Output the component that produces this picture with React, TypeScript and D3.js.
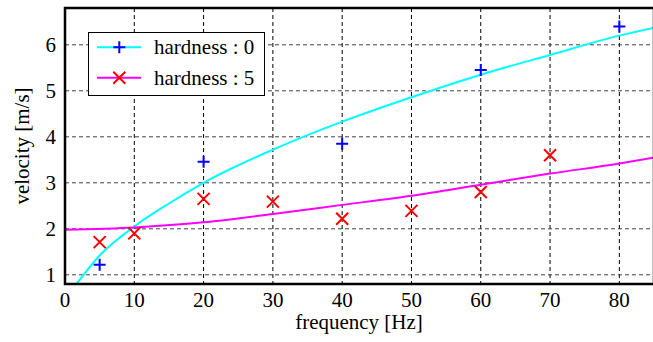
import * as d3 from "d3";

// measured points
const freqHard0 = [5, 20, 40, 60, 80];
const velHard0 = [1.22, 3.46, 3.85, 5.45, 6.4];
const freqHard5 = [5, 10, 20, 30, 40, 50, 60, 70];
const velHard5 = [1.71, 1.9, 2.65, 2.59, 2.22, 2.39, 2.8, 3.6];

// fitted curves
const fitFreq0 = [1.6, 5, 10, 15, 20, 30, 40, 50, 60, 70, 80, 85];
const fitVel0 = [0.79, 1.42, 2.05, 2.55, 3.0, 3.72, 4.33, 4.86, 5.35, 5.78, 6.2, 6.37];
const fitFreq5 = [0, 10, 20, 30, 40, 50, 60, 70, 80, 85];
const fitVel5 = [1.98, 2.03, 2.14, 2.32, 2.52, 2.72, 2.96, 3.2, 3.42, 3.55];

const xTicks = [0, 10, 20, 30, 40, 50, 60, 70, 80];
const yTicks = [1, 2, 3, 4, 5, 6];
const legendLabels = ["hardness : 0", "hardness : 5"];
const lineColors = ["#00ffff", "#ff00ff"];

const W = 653;
const H = 342;
const FONT = "Times New Roman";

const left = 65, top = 8, bottom = 284, right = 654;
const x = d3.scaleLinear().domain([0, 85]).range([left, right]);
const y = d3.scaleLinear().domain([0.8, 6.8]).range([bottom, top]);

function Plus({ cx, cy }) {
	return (
		<path
			d={`M${cx - 6},${cy}H${cx + 6}M${cx},${cy - 6}V${cy + 6}`}
			stroke="#0000ff"
			strokeWidth={2}
			fill="none"
		/>
	);
}

function Cross({ cx, cy }) {
	return (
		<path
			d={`M${cx - 6},${cy - 6}L${cx + 6},${cy + 6}M${cx - 6},${cy + 6}L${cx + 6},${cy - 6}`}
			stroke="#ff0000"
			strokeWidth={2}
			fill="none"
		/>
	);
}

function Label(props) {
	const { children, ...rest } = props;
	return (
		<text {...rest} fontFamily={FONT} fontSize={21} style={{ fontFamily: FONT, fontSize: 21 }}>
			{children}
		</text>
	);
}

function App() {
	const fit0 = d3.line<number>()
		.x((d, i) => x(fitFreq0[i]))
		.y((d) => y(d))
		.curve(d3.curveMonotoneX)(fitVel0);
	const fit5 = d3.line<number>()
		.x((d, i) => x(fitFreq5[i]))
		.y((d) => y(d))
		.curve(d3.curveMonotoneX)(fitVel5);

	const rows = [47.3, 77.8];

	return (
		<div style={{ position: "absolute", left: 0, top: 0 }}>
			<svg width={W} height={H} style={{ display: "block" }}>
				<rect width={W} height={H} fill="#fff" />
				<defs>
					<clipPath id="plot-clip">
						<rect x={left} y={top} width={right - left} height={bottom - top} />
					</clipPath>
				</defs>

				{/* grid */}
				{xTicks.filter((d) => d > 0).map((d) => (
					<line key={"vg" + d} x1={x(d)} x2={x(d)} y1={top} y2={bottom}
						stroke="#000" strokeWidth={1} strokeDasharray="4,3" />
				))}
				{yTicks.map((d) => (
					<line key={"hg" + d} x1={left} x2={right} y1={y(d)} y2={y(d)}
						stroke="#444" strokeWidth={1} strokeDasharray="4,3" />
				))}

				{/* fits */}
				<g clipPath="url(#plot-clip)">
					<path d={fit0} fill="none" stroke="#00ffff" strokeWidth={2} />
					<path d={fit5} fill="none" stroke="#ff00ff" strokeWidth={2} />
				</g>

				{/* measurements */}
				{freqHard0.map((f, i) => <Plus key={"p" + i} cx={x(f)} cy={y(velHard0[i])} />)}
				{freqHard5.map((f, i) => <Cross key={"c" + i} cx={x(f)} cy={y(velHard5[i])} />)}

				{/* frame */}
				<rect x={left} y={top} width={right - left} height={bottom - top}
					fill="none" stroke="#000" strokeWidth={2.5} />

				{/* tick labels */}
				{xTicks.map((d) => (
					<Label key={"xt" + d} x={x(d)} y={307} textAnchor="middle">{d}</Label>
				))}
				{yTicks.map((d) => (
					<Label key={"yt" + d} x={56} y={y(d) + 7} textAnchor="end">{d}</Label>
				))}

				{/* axis titles */}
				<Label x={359} y={329} textAnchor="middle">frequency [Hz]</Label>
				<Label transform="translate(29,146) rotate(-90)" textAnchor="middle">velocity [m/s]</Label>

				{/* legend */}
				<rect x={88.5} y={32.5} width={176} height={63} fill="#fff" stroke="#000" strokeWidth={1} />
				{rows.map((ry, i) => (
					<g key={"lg" + i}>
						<line x1={97} x2={141} y1={ry} y2={ry} stroke={lineColors[i]} strokeWidth={2} />
						{i === 0 ? <Plus cx={119.3} cy={ry} /> : <Cross cx={119.3} cy={ry} />}
						<Label x={154} y={ry + 7}>{legendLabels[i]}</Label>
					</g>
				))}
			</svg>
		</div>
	);
}

export default App;
